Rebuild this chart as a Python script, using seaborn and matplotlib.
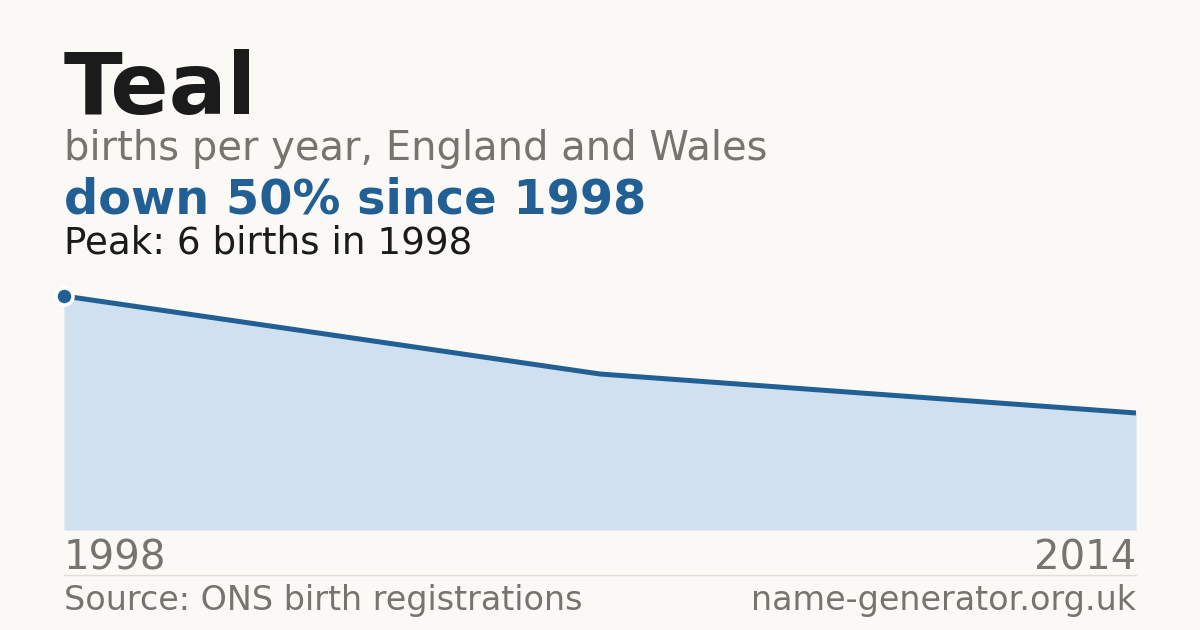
import matplotlib
matplotlib.use('Agg')
import matplotlib.pyplot as plt
import seaborn as sns
import pandas as pd

# data
years = [1998, 2006, 2014]
births = [6, 4, 3]
peak_year = 1998
peak_value = 6

title = 'Teal'
subtitle = 'births per year, England and Wales'
headline = 'down 50% since 1998'
peak_note = 'Peak: 6 births in 1998'
source = 'Source: ONS birth registrations'
site = 'name-generator.org.uk'

BG = '#faf9f5'
BLUE = '#215f95'
FILL = '#d0e0ef'
GREY = '#77736e'
DARK = '#1b1b1b'

sns.set_theme(style='white')
plt.rcParams['font.family'] = ['DejaVu Sans']

df = pd.DataFrame({'year': years, 'births': births})

W, H = 1200, 630
fig = plt.figure(figsize=(12, 6.3), dpi=100, facecolor=BG)

# plot area: x 64..1136 px, bottom at y=530 px
ax = fig.add_axes([64 / W, (H - 530) / H, 1072 / W, 250 / H])
ax.set_facecolor(BG)
ax.fill_between(df['year'], df['births'], 0, color=FILL, linewidth=0, zorder=1)
sns.lineplot(data=df, x='year', y='births', ax=ax, color=BLUE, linewidth=3.6,
             zorder=2, solid_capstyle='butt')
ax.scatter([peak_year], [peak_value], s=150, color=BLUE, edgecolor='white',
           linewidth=2.5, zorder=3, clip_on=False)
ax.set_xlim(min(years), max(years))
ax.set_ylim(0, peak_value * 250 / 234)
ax.axis('off')

# header text
fig.text(64 / W, 1 - 114 / H, title, fontsize=62, fontweight='bold', color=DARK,
         ha='left', va='baseline')
fig.text(64 / W, 1 - 160 / H, subtitle, fontsize=28.8, color=GREY,
         ha='left', va='baseline')
fig.text(64 / W, 1 - 214 / H, headline, fontsize=34.5, fontweight='bold', color=BLUE,
         ha='left', va='baseline')
fig.text(64 / W, 1 - 254 / H, peak_note, fontsize=26.8, color=DARK,
         ha='left', va='baseline')

# year labels
fig.text(64 / W, 1 - 570 / H, str(years[0]), fontsize=28.9, color=GREY,
         ha='left', va='baseline')
fig.text(1136 / W, 1 - 570 / H, str(years[-1]), fontsize=28.9, color=GREY,
         ha='right', va='baseline')

# separator and footer
fig.add_artist(plt.Line2D([64 / W, 1136 / W], [1 - 575 / H, 1 - 575 / H],
                          color='#e2dfd8', linewidth=1))
fig.text(64 / W, 1 - 610 / H, source, fontsize=24, color=GREY,
         ha='left', va='baseline')
fig.text(1136 / W, 1 - 610 / H, site, fontsize=24, color=GREY,
         ha='right', va='baseline')

fig.savefig('out.png', dpi=100, facecolor=BG)
